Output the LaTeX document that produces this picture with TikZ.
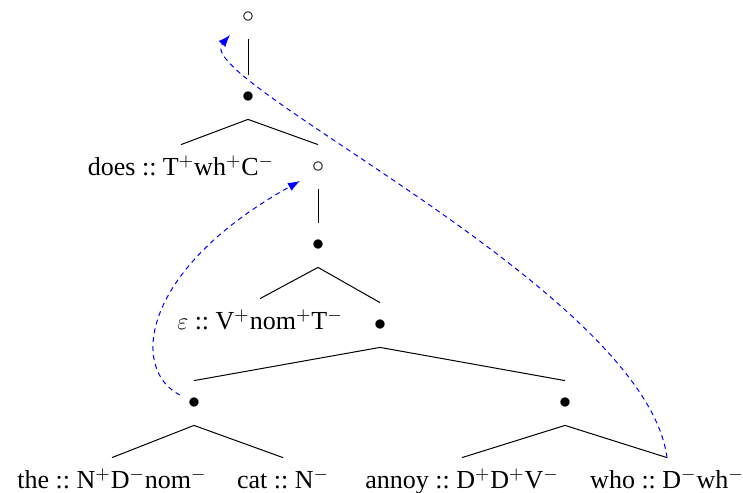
\documentclass[tikz,border=0pt]{standalone}
\usepackage{fontspec}
\setmainfont{Liberation Serif}
\usetikzlibrary{arrows.meta}
\newcommand{\fplus}[1]{#1$^{+}$}
\newcommand{\fminus}[1]{#1$^{-}$}

\begin{document}
\begin{tikzpicture}[x=0.5pt,y=-0.5pt,font=\fontsize{13}{15}\selectfont,
    dot/.style={inner sep=0pt,minimum height=22pt},
    item/.style={inner sep=0pt,inner ysep=5.5pt,text height=9.5pt,text depth=3pt,anchor=base},
    move/.style={-{Latex[length=6pt,width=4.5pt]},blue,line width=0.5pt,
                 dash pattern=on 2.5pt off 2pt}]
    \useasboundingbox (0,0) rectangle (743,492);

    % internal nodes
    \node[dot] (c0)   at (248,17)  {$\circ$};
    \node[dot] (cbar) at (248,97)  {$\bullet$};
    \node[dot] (c1)   at (318,167) {$\circ$};
    \node[dot] (tbar) at (318,245) {$\bullet$};
    \node[dot] (vp)   at (380,325) {$\bullet$};
    \node[dot] (dp)   at (194,403) {$\bullet$};
    \node[dot] (vbar) at (565,403) {$\bullet$};

    % lexical items
    \node[item] (does)  at (181,175) {does~::~\fplus{T}\fplus{wh}\fminus{C}};
    \node[item] (eps)   at (260,329) {$\varepsilon$~::~\fplus{V}\fplus{nom}\fminus{T}};
    \node[item] (the)   at (112,488) {the~::~\fplus{N}\fminus{D}\fminus{nom}};
    \node[item] (cat)   at (283,488) {cat~::~\fminus{N}};
    \node[item] (annoy) at (462,488) {annoy~::~\fplus{D}\fplus{D}\fminus{V}};
    \node[item] (who)   at (667,488) {who~::~\fminus{D}\fminus{wh}};

    % branches
    \foreach \p/\c in {c0/cbar,cbar/does,cbar/c1,c1/tbar,tbar/eps,tbar/vp,
                       vp/dp,vp/vbar,dp/the,dp/cat,vbar/annoy,vbar/who}
        \draw[line width=0.5pt] (\p.south) -- (\c.north);

    % movement
    \draw[move] ([xshift=-7pt,yshift=4pt]dp.center)
        .. controls (130,370) and (140,270) .. ([xshift=-9pt,yshift=-7pt]c1.center);
    \draw[move] (who.north)
        .. controls (645,290) and (190,80) .. ([xshift=-9pt,yshift=-9pt]c0.center);
\end{tikzpicture}
\end{document}
